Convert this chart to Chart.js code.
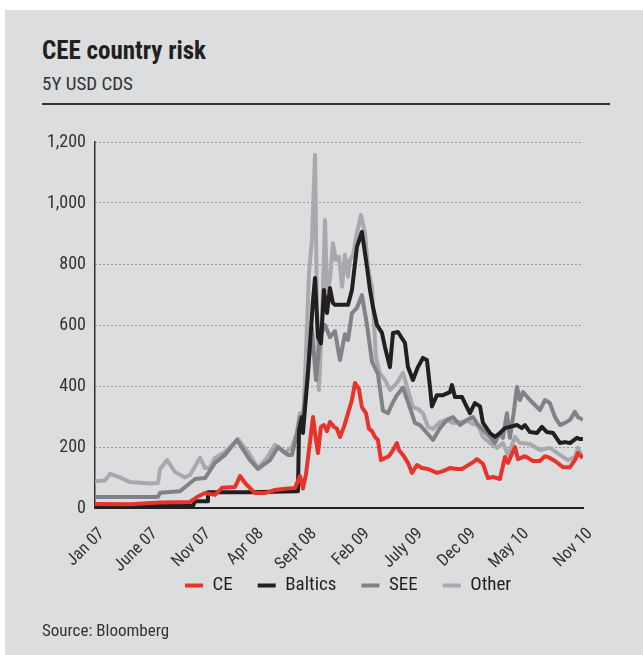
<!DOCTYPE html>
<html>
<head>
<meta charset="utf-8">
<script src="https://cdn.jsdelivr.net/npm/chart.js@4"></script>
<style>
  body { margin: 0; background: #fff; width: 643px; height: 655px; overflow: hidden; }
  #panel { position: absolute; left: 5px; top: 10px; width: 638px; height: 645px; background: #dcdddf; }
  .txt { position: absolute; left: 42px; color: #231f20; font-family: Roboto, sans-serif; font-stretch: 75%; white-space: nowrap; }
  #title { top: 36px; font-size: 25px; font-weight: bold; }
  #subtitle { top: 72px; font-size: 19px; color: #333; }
  #rule { position: absolute; left: 42px; top: 103px; width: 568px; height: 2px; background: #333; }
  #source { top: 620px; font-size: 17px; color: #333; }
  #chart { position: absolute; left: 0; top: 120px; }
</style>
</head>
<body>
<div id="panel"></div>
<div class="txt" id="title">CEE country risk</div>
<div class="txt" id="subtitle">5Y USD CDS</div>
<div id="rule"></div>
<canvas id="chart" width="643" height="520" style="width:643px;height:520px"></canvas>
<div class="txt" id="source">Source: Bloomberg</div>
<script>
// months since Jan 07
var tickMonths = [0, 5, 10, 15, 20, 25, 30, 35, 40, 46];
var tickLabels = ['Jan 07', 'June 07', 'Nov 07', 'Apr 08', 'Sept 08', 'Feb 09', 'July 09', 'Dec 09', 'May 10', 'Nov 10'];

var ceMonths = [0, 3.30, 6.13, 8.95, 9.61, 10.37, 11.31, 11.97, 13.20, 13.67, 14.14, 15.08, 16.02, 16.96, 17.91,
  18.85, 19.32, 19.60, 19.89, 20.17, 20.55, 20.83, 21.02, 21.30, 21.58, 21.87, 22.15, 22.53, 22.81, 23.09,
  23.47, 23.85, 24.22, 24.51, 24.88, 25.16, 25.54, 25.82, 26.11, 26.39, 26.67, 26.96, 27.33, 27.71, 27.99,
  28.46, 28.65, 29.03, 29.50, 29.88, 30.35, 30.82, 31.39, 32.23, 32.80, 33.46, 34.12, 34.59, 35.06, 35.63,
  36.00, 36.57, 37.04, 37.51, 38.17, 38.64, 38.93, 39.59, 39.87, 40.53, 41.28, 41.94, 42.41, 42.88, 43.36,
  44.11, 44.77, 45.24, 45.52, 45.99];
var ceValues = [13, 12, 18, 20, 36, 49, 43, 66, 69, 105, 82, 49, 49, 59, 63,
  66, 105, 64, 111, 190, 298, 223, 180, 266, 272, 252, 282, 266, 260, 233,
  266, 311, 354, 410, 390, 331, 311, 260, 252, 233, 223, 157, 164, 170, 184,
  213, 190, 174, 148, 115, 141, 131, 128, 115, 121, 131, 128, 128, 138, 150,
  160, 145, 98, 102, 95, 167, 148, 200, 160, 170, 154, 154, 170, 164, 154,
  134, 134, 157, 180, 164];

var balticsMonths = [0, 5.18, 9.24, 9.43, 10.56, 10.65, 14.61, 19.13, 19.23, 19.51, 19.60, 20.08, 20.55, 20.74, 21.02,
  21.30, 21.58, 21.87, 22.15, 22.43, 22.62, 23.85, 24.22, 24.69, 25.16, 25.64, 25.92, 26.20, 26.58, 27.05,
  27.33, 27.80, 28.09, 28.56, 29.22, 29.50, 29.97, 30.44, 30.91, 31.29, 31.57, 31.76, 32.23, 32.80, 33.46,
  33.65, 33.93, 34.59, 34.87, 35.34, 35.81, 36.29, 36.57, 37.23, 37.70, 38.17, 38.64, 39.11, 39.77, 40.24,
  40.53, 41.00, 41.66, 42.13, 42.60, 43.17, 43.83, 44.30, 44.77, 45.43, 45.71, 45.99];
var balticsValues = [7, 7, 7, 22, 22, 52, 52, 55, 256, 298, 246, 443, 682, 754, 560,
  540, 715, 639, 721, 672, 666, 666, 715, 856, 905, 790, 715, 659, 600, 574,
  528, 462, 574, 577, 541, 462, 420, 462, 492, 485, 398, 333, 370, 370, 380,
  403, 364, 364, 344, 311, 344, 333, 279, 246, 233, 246, 262, 266, 272, 262,
  272, 249, 246, 266, 249, 246, 213, 216, 213, 230, 226, 226];

var seeMonths = [0, 5.94, 6.13, 8.01, 9.43, 10.37, 11.31, 12.25, 13.38, 14.61, 15.36, 16.49, 17.25, 18.19, 18.57,
  19.04, 19.32, 19.60, 20.08, 20.45, 20.83, 21.21, 21.68, 22.15, 22.62, 23.09, 23.56, 23.85, 24.22, 24.69,
  25.16, 25.64, 26.11, 26.67, 27.14, 27.62, 27.99, 28.46, 29.03, 29.69, 30.16, 30.63, 31.29, 31.86, 32.52,
  33.18, 33.74, 34.40, 35.06, 35.63, 36.10, 36.57, 37.23, 37.70, 38.17, 38.45, 38.83, 39.11, 39.49, 39.77,
  40.06, 40.34, 41.00, 41.94, 42.41, 42.88, 43.36, 43.83, 44.30, 44.77, 45.24, 45.52, 45.99];
var seeValues = [36, 36, 50, 55, 95, 98, 148, 174, 223, 157, 128, 157, 200, 174, 174,
  246, 298, 300, 450, 590, 420, 560, 600, 560, 580, 485, 570, 551, 639, 656,
  698, 600, 480, 440, 320, 311, 340, 370, 395, 328, 279, 272, 246, 223, 262,
  289, 298, 272, 289, 298, 272, 256, 233, 213, 246, 230, 311, 230, 318, 397,
  354, 380, 354, 321, 354, 344, 298, 272, 279, 289, 315, 298, 289];

var otherMonths = [0, 0.94, 1.41, 2.36, 3.30, 5.18, 5.94, 6.13, 6.79, 7.54, 8.48, 8.95, 9.90, 10.37, 10.84,
  11.31, 12.25, 13.48, 14.42, 15.36, 16.12, 16.96, 17.91, 18.57, 19.04, 19.32, 19.60, 19.89, 20.17, 20.45,
  20.74, 20.92, 21.11, 21.39, 21.68, 21.87, 22.15, 22.43, 22.71, 23.00, 23.28, 23.56, 23.85, 24.03, 24.32,
  24.69, 25.07, 25.45, 25.73, 26.11, 26.48, 26.86, 27.33, 27.80, 28.46, 29.03, 29.50, 29.97, 30.44, 30.91,
  31.39, 31.86, 32.52, 33.18, 33.74, 34.40, 35.16, 35.63, 36.10, 36.57, 37.23, 37.89, 38.45, 38.93, 39.59,
  40.06, 41.00, 41.94, 42.88, 43.83, 44.58, 45.24, 45.52, 45.99];
var otherValues = [88, 90, 112, 100, 85, 80, 82, 128, 157, 118, 100, 108, 165, 131, 133,
  164, 184, 226, 184, 131, 160, 207, 180, 200, 246, 311, 266, 508, 770, 879,
  1157, 659, 387, 607, 944, 715, 748, 868, 813, 824, 725, 830, 758, 813, 830,
  901, 961, 901, 790, 720, 495, 440, 420, 387, 410, 443, 387, 331, 325, 311,
  266, 259, 282, 289, 279, 282, 285, 275, 272, 233, 213, 197, 213, 174, 233,
  213, 210, 190, 197, 174, 157, 167, 197, 164];

// "condensed" goes in front of the size in the canvas font string
Chart.defaults.font.family = 'Roboto, sans-serif';
Chart.defaults.font.weight = 'condensed';
Chart.defaults.color = '#333';

function points(months, values) {
    return months.map(function(m, i) { return { x: m, y: values[i] }; });
}

function line(label, months, values, color) {
    return {
        label: label,
        data: points(months, values),
        borderColor: color,
        backgroundColor: color,
        borderWidth: 4,
        borderJoinStyle: 'round',
        pointRadius: 0,
        tension: 0,
        fill: false
    };
}

// put the legend where the picture has it
var legendPlace = {
    id: 'legendPlace',
    afterLayout: function(chart) {
        chart.legend.left = 160;
        chart.legend.top = 431;
    }
};

var ctx = document.getElementById('chart').getContext('2d');
var chart = new Chart(ctx, {
    type: 'line',
    data: {
        datasets: [
            line('CE', ceMonths, ceValues, '#e8332a'),
            line('Baltics', balticsMonths, balticsValues, '#231f20'),
            line('SEE', seeMonths, seeValues, '#808285'),
            line('Other', otherMonths, otherValues, '#a7a9ac')
        ]
    },
    options: {
        responsive: false,
        animation: false,
        devicePixelRatio: 1,
        layout: { padding: { left: 0, right: 60, top: 22, bottom: 3 } },
        plugins: {
            tooltip: { enabled: false },
            legend: {
                position: 'bottom',
                align: 'start',
                labels: {
                    boxWidth: 18,
                    boxHeight: 4,
                    padding: 25,
                    color: '#231f20',
                    font: { size: 19 },
                    generateLabels: function(chart) {
                        return chart.data.datasets.map(function(ds, i) {
                            return {
                                text: ds.label,
                                fillStyle: ds.borderColor,
                                strokeStyle: ds.borderColor,
                                lineWidth: 0,
                                hidden: false,
                                datasetIndex: i,
                                fontColor: '#231f20'
                            };
                        });
                    }
                }
            }
        },
        scales: {
            x: {
                type: 'linear',
                min: 0,
                max: 46,
                afterBuildTicks: function(scale) {
                    scale.ticks = tickMonths.map(function(v) { return { value: v }; });
                },
                afterFit: function(scale) { scale.height = 75; },
                grid: { display: false },
                border: { color: '#231f20', width: 2 },
                ticks: {
                    autoSkip: false,
                    minRotation: 45,
                    maxRotation: 45,
                    padding: 8,
                    labelOffset: 7,
                    font: { size: 17 },
                    callback: function(value, index) { return tickLabels[index]; }
                }
            },
            y: {
                min: 0,
                max: 1200,
                afterFit: function(scale) { scale.width = 95; },
                grid: { color: '#555', lineWidth: 1, drawTicks: false },
                border: { color: '#333', width: 1.5, dash: [1, 3] },
                ticks: {
                    stepSize: 200,
                    padding: 9,
                    font: { size: 18 },
                    callback: function(value) { return value.toLocaleString('en-US'); }
                }
            }
        }
    },
    plugins: [legendPlace]
});
</script>
</body>
</html>
